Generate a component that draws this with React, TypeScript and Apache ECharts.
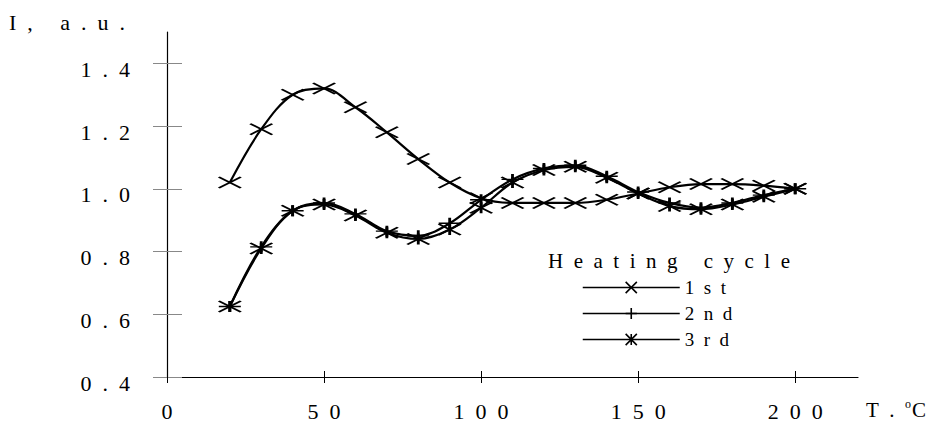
import React, { useEffect, useRef } from 'react';
import * as echarts from 'echarts';

const temps = [20, 30, 40, 50, 60, 70, 80, 90, 100, 110, 120, 130, 140, 150, 160, 170, 180, 190, 200];
const cycle1 = [1.02, 1.19, 1.30, 1.32, 1.26, 1.18, 1.095, 1.02, 0.97, 0.955, 0.955, 0.955, 0.965, 0.985, 1.005, 1.015, 1.015, 1.01, 1.0];
const cycle2 = [0.625, 0.815, 0.93, 0.955, 0.92, 0.865, 0.85, 0.89, 0.965, 1.03, 1.065, 1.075, 1.04, 0.99, 0.955, 0.94, 0.955, 0.98, 1.0];
const cycle3 = [0.625, 0.81, 0.93, 0.95, 0.915, 0.86, 0.84, 0.87, 0.94, 1.02, 1.06, 1.07, 1.035, 0.985, 0.945, 0.935, 0.95, 0.975, 1.0];
const seriesNames = ['1st', '2nd', '3rd'];
const yTicks = [0.4, 0.6, 0.8, 1.0, 1.2, 1.4];
const xTicks = [0, 50, 100, 150, 200];
const yTitle = 'I, a.u.';
const legendTitle = 'Heating cycle';

const SERIF = '"Liberation Serif", "Times New Roman", serif';
const sp = (s: string) => s.split('').join('\u2002');

const symX = 'path://M0,0L20,11M0,11L20,0';
const symPlus = 'path://M0,5.5L20,5.5M10,0L10,11';
const symStar = 'path://M0,0L20,11M0,11L20,0M10,0L10,11';

export default function App() {
  const ref = useRef<HTMLDivElement>(null);
  useEffect(() => {
    if (!ref.current) return;
    const chart = echarts.init(ref.current, undefined, { renderer: 'svg' });
    const mk = (name: string, vals: number[], sym: string) => ({
      name,
      type: 'line',
      smooth: 0.35,
      data: temps.map((t, i) => [t, vals[i]]),
      symbol: sym,
      symbolSize: [22, 11],
      showSymbol: true,
      lineStyle: { color: '#000', width: 2.2 },
      itemStyle: { color: '#000', borderColor: '#000', borderWidth: 2 },
      emphasis: { disabled: true },
    });
    const labelStyle = { fontFamily: SERIF, fontSize: 22, color: '#000' };
    chart.setOption({
      animation: false,
      backgroundColor: '#fff',
      grid: { left: 167, top: 32, right: 81, bottom: 47, containLabel: false },
      xAxis: [
        {
          type: 'value', min: 0, max: 220, position: 'bottom',
          axisLine: { show: true, onZero: false, lineStyle: { color: '#000', width: 1.2 } },
          axisTick: { show: true, customValues: xTicks, length: 6, lineStyle: { color: '#000', width: 1 } },
          axisLabel: { customValues: xTicks, formatter: (v: number) => sp(String(v)), margin: 23, ...labelStyle },
          splitLine: { show: false },
        },
        {
          type: 'value', min: 0, max: 220, position: 'bottom',
          axisLine: { show: false },
          axisTick: { show: true, inside: true, customValues: xTicks, length: 6, lineStyle: { color: '#000', width: 1 } },
          axisLabel: { show: false },
          splitLine: { show: false },
        },
      ],
      yAxis: [
        {
          type: 'value', min: 0.4, max: 1.5, position: 'left',
          axisLine: { show: true, onZero: false, lineStyle: { color: '#000', width: 1.2 } },
          axisTick: { show: true, customValues: yTicks, length: 14, lineStyle: { color: '#888', width: 1 } },
          axisLabel: {
            customValues: yTicks, formatter: (v: number) => sp(v.toFixed(1)), margin: 37,
            verticalAlign: 'top', lineHeight: 12, ...labelStyle,
          },
          splitLine: { show: false },
        },
        {
          type: 'value', min: 0.4, max: 1.5, position: 'left',
          axisLine: { show: false },
          axisTick: { show: true, inside: true, customValues: yTicks, length: 15, lineStyle: { color: '#888', width: 1 } },
          axisLabel: { show: false },
          splitLine: { show: false },
        },
      ],
      legend: {
        orient: 'vertical', left: 577, top: 273, itemWidth: 97, itemHeight: 14, itemGap: 7,
        data: seriesNames,
        formatter: (n: string) => sp(n),
        textStyle: { fontFamily: SERIF, fontSize: 19, color: '#000' },
        lineStyle: { width: 1.5 },
        itemStyle: { borderWidth: 1.6 },
        selectedMode: false,
      },
      graphic: [
        { type: 'text', left: 9, top: 11, style: { text: sp(yTitle), fontFamily: SERIF, fontSize: 22, fill: '#000' } },
        { type: 'text', left: 548, top: 250, style: { text: sp(legendTitle), fontFamily: SERIF, fontSize: 21, fill: '#000' } },
        {
          type: 'text', left: 866, top: 398,
          style: {
            text: '{a|T\u2002.\u2002}{s|o}{a|C}',
            rich: {
              a: { fontFamily: SERIF, fontSize: 21, fill: '#000' },
              s: { fontFamily: SERIF, fontSize: 12, fill: '#000', padding: [0, 1, 12, 0] },
            },
          },
        },
      ],
      series: [mk(seriesNames[0], cycle1, symX), mk(seriesNames[1], cycle2, symPlus), mk(seriesNames[2], cycle3, symStar)],
    });
    return () => chart.dispose();
  }, []);
  return <div ref={ref} style={{ position: 'fixed', left: 0, top: 0, width: 939, height: 424, background: '#fff' }} />;
}
